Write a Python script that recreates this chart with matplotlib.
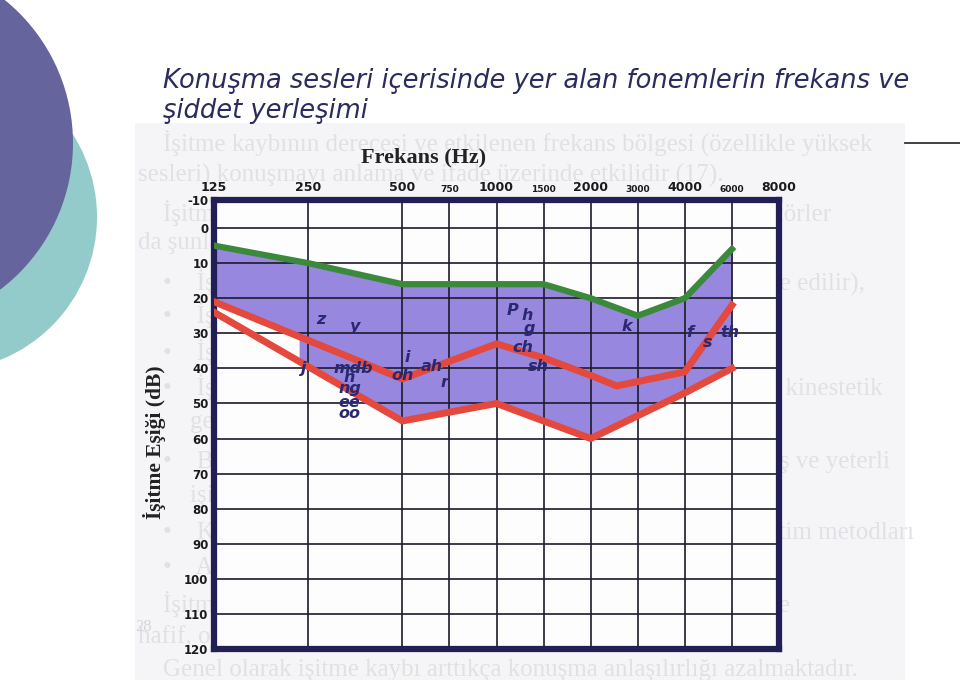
import numpy as np
import matplotlib.pyplot as plt
from matplotlib.patches import Circle, Rectangle

# audiogram grid (Hz) and where each line sits (half octaves sit halfway)
tick_freqs = [125, 250, 500, 750, 1000, 1500, 2000, 3000, 4000, 6000, 8000]
tick_pos = [0, 1, 2, 2.5, 3, 3.5, 4, 4.5, 5, 5.5, 6]
tick_labels = ['125', '250', '500', '750', '1000', '1500', '2000', '3000', '4000', '6000', '8000']
db_ticks = [0, 10, 20, 30, 40, 50, 60, 70, 80, 90, 100, 110, 120]

# upper edge of the speech banana (green)
green_freq = [125, 250, 500, 1000, 1500, 2000, 3000, 4000, 6000]
green_db = [5, 10, 16, 16, 16, 20, 25, 20, 6]

# inner red line
red1_freq = [125, 500, 1000, 1500, 2000, 2500, 4000, 6000]
red1_db = [21, 43, 33, 37, 42, 45, 41, 22]

# outer red line
red2_freq = [125, 500, 1000, 2000, 4000, 6000]
red2_db = [24, 55, 50, 60, 47, 40]

# phonemes
phonemes = ['z', 'y', 'j', 'mdb', 'n', 'ng', 'ee', 'oo', 'i', 'oh', 'ah', 'r',
            'P', 'h', 'g', 'ch', 'sh', 'k', 'f', 's', 'th']
phon_freq = [274, 354, 240, 349, 339, 339, 339, 339, 520, 500, 643, 720,
             1148, 1307, 1329, 1256, 1430, 2723, 4165, 4861, 5906]
phon_db = [26, 28, 40, 40, 42.5, 45.7, 49.7, 52.8, 37, 42, 39.5, 44,
           23.4, 24.9, 28.5, 34, 39.6, 28, 29.7, 32.6, 29.7]

# faint scanned page text behind the chart
page_lines = [
    (163, 143, "İşitme kaybının derecesi ve etkilenen frekans bölgesi (özellikle yüksek"),
    (138, 175, "sesleri) konuşmayı anlama ve ifade üzerinde etkilidir (17)."),
    (163, 213, "İşitme kayıplı bir kişiyi, normal işitenlerden ayıran çeşitli faktörler"),
    (138, 243, "da şunlardır;"),
    (163, 282, "•    İşitme kaybının derecesi (genellikle işitme eşikleri ile ifade edilir),"),
    (163, 315, "•    İşitme kaybının başlangıç yaşı ve tanı konulduğu yaş,"),
    (163, 352, "•    İşitme kaybına eşlik eden başka sorunların varlığı,"),
    (163, 387, "•    İşitmenin yokluğu nedeniyle konuşmaya yönelik işitsel ve kinestetik"),
    (190, 422, "geribildirimin yokluğu,"),
    (163, 462, "•    Bebek, erken çocukluk döneminde yeterli dil uyaranı almış ve yeterli"),
    (190, 496, "işitsel uyaranı yeterli karşılıklı,"),
    (163, 533, "•    Konuşmanın geliştirilmesi ve iletilmesi için kullanılan eğitim metodları"),
    (163, 568, "•    Amplifikasyon kullanımı ve cihazın uygunluğu (17, 18)."),
    (163, 604, "İşitme kaybı dereceleri, işitme eşiklerine göre sınıflandırılır ve"),
    (138, 637, "hafif, orta, ileri ve çok ileri derecede olarak ayrılmaktadır (18)."),
    (163, 670, "Genel olarak işitme kaybı arttıkça konuşma anlaşılırlığı azalmaktadır."),
]


def fpos(f):
    # frequency -> position on the audiogram x axis
    return np.interp(np.log2(f), np.log2(tick_freqs), tick_pos)


fig = plt.figure(figsize=(9.6, 6.8), dpi=100)

# slide background, pixel coordinates
bg = fig.add_axes([0, 0, 1, 1], zorder=-1)
bg.set_xlim(0, 960)
bg.set_ylim(680, 0)
bg.axis('off')
bg.add_patch(Circle((-57, 217), 154, color='#92cbca', lw=0))
bg.add_patch(Circle((-111, 143), 184, color='#66649c', lw=0))
page = Rectangle((135, 123), 770, 560, color='#f5f5f7', lw=0)
bg.add_patch(page)
for x, y, s in page_lines:
    t = bg.text(x, y, s, fontsize=18, family='Liberation Serif', color='#e1e1e5', va='center')
    t.set_clip_path(page)
t = bg.text(135, 627, '28', fontsize=12, family='Liberation Serif', color='#d6d6da', va='center')
bg.plot([905, 960], [143, 143], color='#333333', lw=1.3)
bg.text(163, 88, 'Konuşma sesleri içerisinde yer alan fonemlerin frekans ve',
        fontsize=18.5, style='italic', color='#2b2b5e', family='DejaVu Sans')
bg.text(163, 118, 'şiddet yerleşimi', fontsize=18.5, style='italic', color='#2b2b5e', family='DejaVu Sans')
bg.text(424, 157, 'Frekans (Hz)', fontsize=16, fontweight='bold', family='Liberation Serif',
        color='#222222', ha='center', va='center')
bg.text(155, 442, 'İşitme Eşiği (dB)', fontsize=15.5, fontweight='bold', family='Liberation Serif',
        color='#222222', ha='center', va='center', rotation=90)

# the audiogram
ax = fig.add_axes([214 / 960, 1 - 649 / 680, 565 / 960, 449 / 680])
ax.set_facecolor('#fdfdfd')
ax.set_xlim(0, 6)
ax.set_ylim(120, -8)

xs = np.linspace(0, fpos(6000), 500)
g = np.interp(xs, fpos(green_freq), green_db)
r1 = np.interp(xs, fpos(red1_freq), red1_db)
r2 = np.interp(xs, fpos(red2_freq), red2_db)
ax.fill_between(xs, g, r1, color='#9787de', lw=0, zorder=1)
ax.fill_between(xs, r1, r2, where=xs >= 0.9, color='#9787de', lw=0, zorder=1)

for p in tick_pos[1:-1]:
    ax.axvline(p, color='#1c1c2c', lw=1.2, zorder=2)
for d in db_ticks[:-1]:
    ax.axhline(d, color='#1c1c2c', lw=1.2, zorder=2)

ax.plot(fpos(green_freq), green_db, color='#3b8a3b', lw=4.5, solid_joinstyle='miter', zorder=3)
ax.plot(fpos(red1_freq), red1_db, color='#e5483d', lw=5, zorder=3)
ax.plot(fpos(red2_freq), red2_db, color='#e5483d', lw=5, zorder=3)

for s, f, d in zip(phonemes, phon_freq, phon_db):
    ax.text(fpos(f), d, s, fontsize=11.5, fontweight='bold', style='italic', family='DejaVu Sans',
            color='#2a2870', ha='center', va='center', zorder=4)

ax.xaxis.tick_top()
ax.set_xticks(tick_pos)
ax.set_xticklabels(tick_labels)
for lab, f in zip(ax.get_xticklabels(), tick_freqs):
    lab.set_fontweight('bold')
    lab.set_fontsize(6.5 if f in (750, 1500, 3000, 6000) else 9)
ax.set_yticks([-8] + db_ticks)
ax.set_yticklabels(['-10'] + [str(d) for d in db_ticks], fontweight='bold', fontsize=8.5)
ax.tick_params(length=0, pad=4, colors='#1a1a1a')
for sp in ax.spines.values():
    sp.set_color('#211f55')
    sp.set_linewidth(4.5)

plt.savefig('out.png', dpi=100)
